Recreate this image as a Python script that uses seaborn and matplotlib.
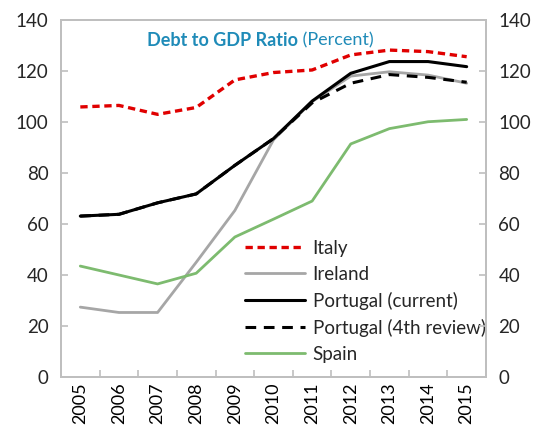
import matplotlib
matplotlib.use("Agg")
import matplotlib.pyplot as plt
import seaborn as sns
import pandas as pd
from matplotlib.ticker import FixedLocator

years = ["2005", "2006", "2007", "2008", "2009", "2010", "2011", "2012", "2013", "2014", "2015"]
italy = [105.9, 106.5, 103.0, 105.7, 116.5, 119.4, 120.4, 126.3, 128.2, 127.6, 125.6]
ireland = [27.4, 25.3, 25.3, 45.0, 65.3, 93.0, 108.0, 118.0, 119.7, 118.4, 115.2]
portugal_cur = [63.1, 63.8, 68.3, 71.8, 83.0, 93.5, 108.2, 119.1, 123.7, 123.7, 121.7]
portugal_4th = [63.1, 63.8, 68.3, 71.8, 83.0, 93.5, 107.5, 115.2, 118.6, 117.5, 115.6]
spain = [43.5, 40.0, 36.5, 40.7, 54.9, 61.9, 69.0, 91.4, 97.4, 100.1, 101.0]
series_names = ["Italy", "Ireland", "Portugal (current)", "Portugal (4th review)", "Spain"]

sns.set_theme(style="white")
plt.rcParams['font.family'] = ['Lato', 'DejaVu Sans']

df = pd.DataFrame({"Year": years * 5,
                   "Value": italy + ireland + portugal_cur + portugal_4th + spain,
                   "Series": sum([[s] * len(years) for s in series_names], [])})

fig = plt.figure(figsize=(5.38, 4.30), dpi=100)
ax = fig.add_axes([61/538, 53/430, 425/538, 357/430])

styles = {
    "Italy": dict(color="#e00000", dashes=(2.2, 1.4), lw=2.4),
    "Ireland": dict(color="#a6a6a6", dashes=None, lw=2.0),
    "Portugal (current)": dict(color="#000000", dashes=None, lw=2.2),
    "Portugal (4th review)": dict(color="#000000", dashes=(3.5, 2.5), lw=2.2),
    "Spain": dict(color="#7dbb6f", dashes=None, lw=2.0),
}
order = ["Ireland", "Spain", "Portugal (4th review)", "Portugal (current)", "Italy"]
for s in order:
    st = styles[s]
    sub = df[df["Series"] == s]
    sns.lineplot(data=sub, x="Year", y="Value", ax=ax, color=st["color"], lw=st["lw"], label=s, sort=False)
    if st["dashes"]:
        ax.lines[-1].set_dashes(st["dashes"])

ax.set_xlim(-0.5, 10.5)
ax.set_ylim(0, 140)
ax.set_yticks(range(0, 141, 20))
ax.set_xlabel("")
ax.set_ylabel("")

ax.xaxis.set_minor_locator(FixedLocator([i + 0.5 for i in range(10)]))
ax.tick_params(axis="x", which="major", length=0, labelrotation=90, labelsize=13, pad=4, colors="#000000")
ax.tick_params(axis="x", which="minor", length=5, direction="in", color="#bfbfbf", width=1.2, bottom=True)
ax.tick_params(axis="y", which="major", length=5, direction="in", color="#bfbfbf", width=1.2, labelsize=13.5, pad=9, left=True)
for sp in ax.spines.values():
    sp.set_color("#bfbfbf")
    sp.set_linewidth(1.3)

ax2 = ax.twinx()
ax2.set_ylim(0, 140)
ax2.set_yticks(range(0, 141, 20))
ax2.tick_params(axis="y", which="major", length=5, direction="in", color="#bfbfbf", width=1.2, labelsize=13.5, pad=9, right=True)
for sp in ax2.spines.values():
    sp.set_color("#bfbfbf")
    sp.set_linewidth(1.3)

handles, labels = ax.get_legend_handles_labels()
hmap = dict(zip(labels, handles))
leg = ax.legend([hmap[n] for n in series_names], series_names, loc="upper left",
                bbox_to_anchor=(0.433, 0.385), frameon=False, fontsize=13.5,
                handlelength=3.2, handletextpad=0.4, labelspacing=0.48, borderaxespad=0,
                borderpad=0)

t1 = fig.text(147/538, 1 - 40/430, "Debt to GDP Ratio", fontsize=13, fontweight="bold",
              color="#1f8bb8", ha="left", va="center")
ax.annotate(" (Percent)", xy=(1, 0.5), xycoords=t1, va="center", ha="left",
            fontsize=13, color="#1f8bb8")

fig.savefig("out.png", dpi=100)
